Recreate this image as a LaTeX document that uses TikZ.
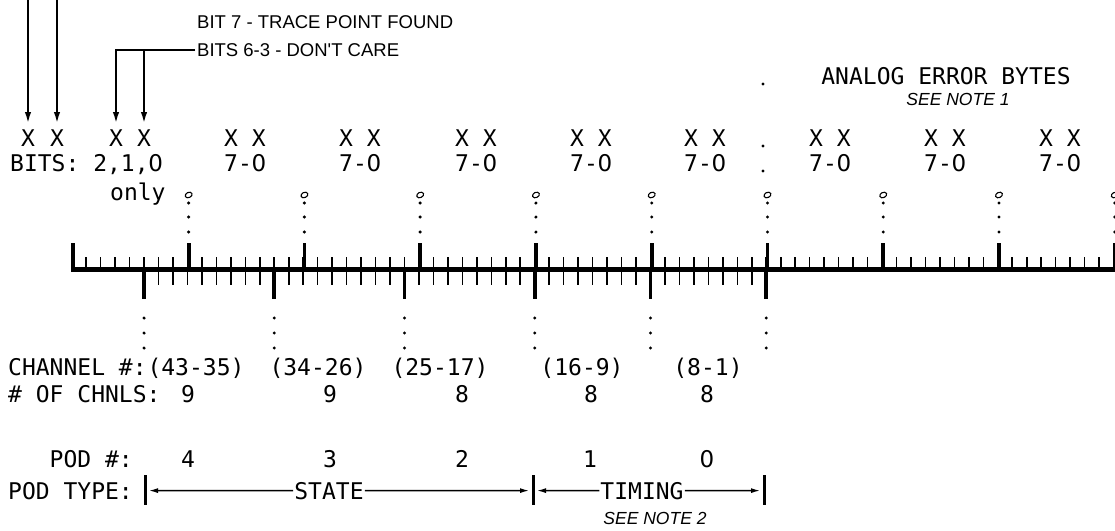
\documentclass[tikz,border=0pt]{standalone}
\usepackage{fontspec}
\setmainfont{DejaVu Sans Mono}
\newfontfamily\hel{Liberation Sans}
\newfontfamily\dvsans{DejaVu Sans}
\newcommand\zr{\makebox[0.602em]{\dvsans 0}}
\usetikzlibrary{arrows.meta}
\begin{document}
\begin{tikzpicture}[x=1pt,y=-1pt,
  mono/.style={font=\fontsize{23}{23}\selectfont, inner sep=0pt},
  hl/.style={font=\hel\fontsize{18.5}{18.5}\selectfont, inner sep=0pt},
  note/.style={font=\hel\itshape\fontsize{17.5}{17.5}\selectfont, inner sep=0pt},
  arr/.style={line width=1.8pt, -{Latex[length=11pt,width=6.5pt]}},
  tarr/.style={line width=1.3pt, -{Latex[length=9pt,width=5pt]}, shorten >=4pt, shorten <=1pt},
  bar/.style={line width=3pt},
  rmain/.style={line width=5pt},
  rmajor/.style={line width=3.8pt},
  rminor/.style={line width=1.6pt},
  dotc/.style={fill=black},
  ring/.style={line width=1.1pt}
]
\useasboundingbox (0,0) rectangle (1115,530);

% ---- top labels and arrows ----
\node[hl, anchor=base west] (b7) at (197,28) {BIT 7 - TRACE POINT FOUND};
\node[hl, anchor=base west] (b63) at (197,56) {BITS 6-3 - DON'T CARE};

\node[mono, anchor=base] (xa) at (28,146) {X};
\node[mono, anchor=base] (xb) at (57,146) {X};
\node[mono, anchor=base] (xc) at (116,146) {X};
\node[mono, anchor=base] (xd) at (144,146) {X};

\coordinate (ta) at (28,0);
\coordinate (tb) at (57,0);
\draw[arr, shorten >=6pt] (ta) -- (xa.north);
\draw[arr, shorten >=6pt] (tb) -- (xb.north);
\draw[arr, shorten >=6pt, shorten <=2pt] (b63.west) -| (xc.north);
\draw[arr, shorten >=6pt] (xd.north |- b63.west) -- (xd.north);

\node[mono, anchor=base] (ana) at (946,84) {ANALOG ERROR BYTES};
\node[note, anchor=base] (n1) at (958,105) {SEE NOTE 1};

% byte columns
\foreach \c/\n in {245/1,360/2,476/3,591/4,705/5,830/6,945/7,1060/8}{
  \node[mono, anchor=base] (xx\n) at (\c,146) {X X};
  \node[mono, anchor=base] (bt\n) at (\c,171) {7-\zr};
}
\node[mono, anchor=base west] (bits) at (10,171) {BITS: 2,1,\zr};
\node[mono, anchor=base west] (only) at (110,200) {only};

% dot column
\foreach \y in {84,146,171} \fill[dotc] (763,\y) circle (1.7);

% ---- ruler ----
\pgfmathsetmacro{\u}{14.47}
\draw[rmain] (71,269) -- (1115,269);
\foreach \i in {0,...,72}{
  \draw[rminor] ({71.7+\i*\u},257) -- ({71.7+\i*\u},269);
}
\foreach \k in {0,...,9}{
  \draw[rmajor] ({72.9+8*\k*\u},243) -- ({72.9+8*\k*\u},269);
}
\foreach \i in {5,...,48}{
  \draw[rminor] ({71.7+\i*\u},269) -- ({71.7+\i*\u},285);
}
\foreach \i in {5,14,23,32,40,48}{
  \draw[rmajor] ({71.7+\i*\u},269) -- ({71.7+\i*\u},299);
  \foreach \y in {318,333,348} \fill[dotc] ({71.7+\i*\u},\y) circle (1.7);
}
\foreach \k in {1,...,9}{
  \draw[ring, rotate around={25:({72.9+8*\k*\u},195)}] ({72.9+8*\k*\u},195) ellipse (3.6 and 2.6);
  \foreach \y in {203,217,232} \fill[dotc] ({72.9+8*\k*\u},\y) circle (1.7);
}

% ---- bottom labels ----
\node[mono, anchor=base west] (chl) at (8,375) {CHANNEL \#:};
\node[mono, anchor=base] (c1) at (196,375) {(43-35)};
\node[mono, anchor=base] (c2) at (318,375) {(34-26)};
\node[mono, anchor=base] (c3) at (440,375) {(25-17)};
\node[mono, anchor=base] (c4) at (582,375) {(16-9)};
\node[mono, anchor=base] (c5) at (708,375) {(8-1)};

\node[mono, anchor=base west] (nl) at (8,402) {\# OF CHNLS:};
\node[mono, anchor=base] (n1c) at (188,402) {9};
\node[mono, anchor=base] (n2c) at (330,402) {9};
\node[mono, anchor=base] (n3c) at (462,402) {8};
\node[mono, anchor=base] (n4c) at (591,402) {8};
\node[mono, anchor=base] (n5c) at (707,402) {8};

\node[mono, anchor=base east] (pl) at (133,467) {POD \#:};
\node[mono, anchor=base] (p4) at (188,467) {4};
\node[mono, anchor=base] (p3) at (330,467) {3};
\node[mono, anchor=base] (p2) at (462,467) {2};
\node[mono, anchor=base] (p1) at (590,467) {1};
\node[mono, anchor=base] (p0) at (707,467) {\zr};

\node[mono, anchor=base west] (tl) at (8,499) {POD TYPE:};
\node[mono, anchor=base] (st) at (329,499) {STATE};
\node[mono, anchor=base] (tm) at (642,499) {TIMING};
\coordinate (bl) at (145,490.6);
\coordinate (bm) at (533,490.6);
\coordinate (br) at (764,490.6);
\draw[bar] (145,475) -- (145,505);
\draw[bar] (533,475) -- (533,505);
\draw[bar] (764,475) -- (764,505);
\draw[tarr] (st.west) -- (bl);
\draw[tarr] (st.east) -- (bm);
\draw[tarr] (tm.west) -- (bm);
\draw[tarr] (tm.east) -- (br);
\node[note, anchor=base] (n2) at (655,524) {SEE NOTE 2};
\end{tikzpicture}
\end{document}
